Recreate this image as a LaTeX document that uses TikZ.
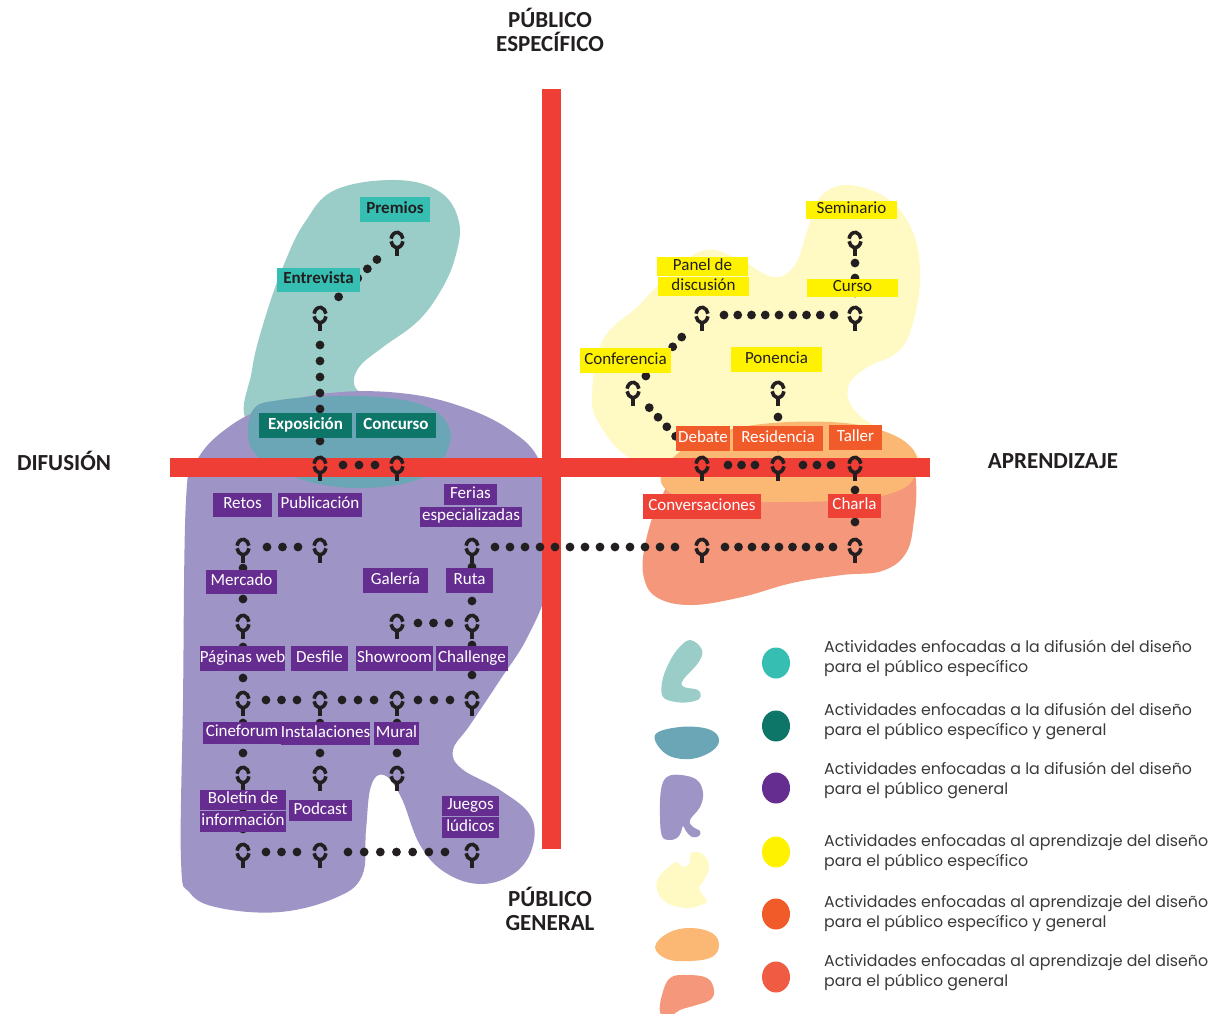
\documentclass[tikz,border=0pt]{standalone}
\usepackage{fontspec}
\setmainfont{Carlito}
\newfontfamily\legfont{Poppins}
\usetikzlibrary{calc,shapes.geometric}
\definecolor{barred}{HTML}{EF3E36}
\definecolor{tealL}{HTML}{9BCDC8}
\definecolor{blueB}{HTML}{6BA6B6}
\definecolor{purB}{HTML}{9E95C6}
\definecolor{yelB}{HTML}{FFF9C4}
\definecolor{oraB}{HTML}{FBB874}
\definecolor{salB}{HTML}{F5977A}
\definecolor{cTeal}{HTML}{36BEB3}
\definecolor{cDTeal}{HTML}{0E7569}
\definecolor{cPur}{HTML}{662D91}
\definecolor{cYel}{HTML}{FFF200}
\definecolor{cOra}{HTML}{F15A29}
\definecolor{cRed}{HTML}{EF5B43}
\definecolor{lblRed}{HTML}{EE4237}
\definecolor{ink}{HTML}{231F20}
\definecolor{legtxt}{HTML}{3A3A3A}
\tikzset{
  symline/.style={line width=3.6pt, draw=ink},
  sym/.pic={
    \draw[symline] (190:6 and 7.6) arc[start angle=190,end angle=350,x radius=6,y radius=7.6];
    \draw[symline] (10:6 and 7.6) arc[start angle=10,end angle=170,x radius=6,y radius=7.6];
    \draw[symline] (0,7.6) -- (0,15.5);
  },
  lbl/.style={inner sep=0pt, outer sep=0pt, font=\fontsize{17}{17}\selectfont, text height=10.5pt, text depth=3pt, align=center},
  tealLbl/.style={fill=cTeal, text=ink, font=\bfseries\fontsize{17}{17}\selectfont},
  dtealLbl/.style={fill=cDTeal, text=white, font=\bfseries\fontsize{17}{17}\selectfont},
  yelLbl/.style={fill=cYel, text=ink},
  oraLbl/.style={fill=cOra, text=white},
  redLbl/.style={fill=lblRed, text=white},
  purLbl/.style={fill=cPur, text=white},
  axislbl/.style={font=\bfseries\fontsize{23}{24}\selectfont, text=ink, align=center, inner sep=0pt},
  legdot/.style={ellipse, inner sep=0pt, minimum width=28pt, minimum height=31pt},
  legtext/.style={font=\legfont\fontsize{15.8}{19.5}\selectfont, text=legtxt, align=left, anchor=west, inner sep=0pt},
  blob/.style={smooth cycle, tension=0.65},
}
\newcommand\lab[7]{\node[lbl,#6,minimum width=#4pt,minimum height=#5pt] (#1) at (#2,#3) {#7};}
\newcommand\dotrow[5]{%
  \path ($(#1)!#3pt!(#2)$) coordinate (dA) ($(#2)!#4pt!(#1)$) coordinate (dB);
  \foreach \k in {0,...,#5}{\fill[ink] ($(dA)!{\k/#5}!(dB)$) circle[radius=4.4];}
}
\begin{document}
\begin{tikzpicture}[x=1pt,y=-1pt]
\useasboundingbox (0,0) rectangle (1224,1013);
\fill[white] (0,0) rectangle (1224,1013);

% ---------- blobs ----------
\fill[tealL] plot[blob] coordinates {(396,180) (440,192) (459,222) (455,258) (440,292) (417,322) (383,347) (360,366) (354,384) (366,395) (395,400) (425,410) (420,440) (330,445) (250,425) (252,370) (266,315) (285,262) (305,222) (335,190)};
\fill[purB] plot[blob] coordinates {(186,500) (196,462) (222,432) (265,408) (330,393) (400,393) (460,406) (510,430) (540,462) (552,520) (548,585) (527,638) (500,680) (470,725) (453,750) (462,769) (500,790) (530,815) (533,845) (516,872) (482,884) (446,873) (420,845) (401,797) (384,775) (371,786) (366,830) (362,876) (335,898) (280,912) (220,908) (190,893) (181,860) (183,700)};
\fill[blueB] plot[blob] coordinates {(253,410) (280,400) (337,396) (390,398) (425,406) (445,420) (450,442) (432,472) (390,486) (330,486) (278,470) (250,445)};
\fill[yelB] plot[blob] coordinates {(592,395) (603,340) (637,307) (670,274) (705,250) (740,260) (773,277) (795,265) (808,228) (820,197) (848,185) (888,199) (912,230) (920,270) (915,315) (900,350) (866,368) (848,387) (856,412) (892,437) (922,462) (900,482) (800,487) (680,482) (628,457) (600,425)};
\fill[salB] plot[blob] coordinates {(690,458) (660,500) (645,545) (644,578) (658,598) (692,605) (742,597) (792,583) (842,575) (882,571) (906,553) (914,520) (916,482) (908,455) (870,442) (760,442)};
\fill[oraB] plot[blob] coordinates {(661,482) (676,455) (712,435) (762,424) (830,422) (880,430) (911,447) (917,470) (900,490) (850,500) (760,502) (690,500)};

% ---------- axes ----------
\fill[barred] (542,89) rectangle (561,849);
\fill[barred] (170,458) rectangle (930,477);

% ---------- symbol positions ----------
\coordinate (sPre) at (397,240);
\coordinate (sEnt) at (320,315);
\coordinate (sExp) at (320,465);
\coordinate (sCon) at (397,465);
\coordinate (sSem) at (855,240);
\coordinate (sCur) at (855,315);
\coordinate (sPan) at (702,315);
\coordinate (sConf) at (633,390);
\coordinate (sPon) at (778,390);
\coordinate (sDeb) at (702,465);
\coordinate (sRes) at (778,465);
\coordinate (sTal) at (855,465);
\coordinate (sCha) at (855,547);
\coordinate (sConv) at (702,547);
\coordinate (sRet) at (243,547);
\coordinate (sPub) at (320,547);
\coordinate (sFer) at (472,547);
\coordinate (sMer) at (243,623);
\coordinate (sGal) at (397,623);
\coordinate (sRut) at (472,623);
\coordinate (sPag) at (243,700);
\coordinate (sDes) at (320,700);
\coordinate (sSho) at (397,700);
\coordinate (sCh) at (472,700);
\coordinate (sCin) at (243,775);
\coordinate (sIns) at (320,775);
\coordinate (sMur) at (397,775);
\coordinate (sBol) at (243,852);
\coordinate (sPod) at (320,852);
\coordinate (sJue) at (472,852);

% ---------- dotted connectors ----------
\dotrow{sEnt}{sPre}{26}{28}{4}
\dotrow{sEnt}{sExp}{30}{24}{6}
\dotrow{sExp}{sCon}{23}{22}{2}
\dotrow{sSem}{sCur}{23}{22}{2}
\dotrow{sPan}{sCur}{22}{21}{8}
\dotrow{sPan}{sConf}{30}{19}{4}
\dotrow{sConf}{sDeb}{24}{26}{4}
\dotrow{sPon}{sRes}{27}{18}{2}
\dotrow{sDeb}{sRes}{26}{23}{2}
\dotrow{sRes}{sTal}{25}{24}{2}
\dotrow{sTal}{sCha}{25}{25}{2}
\dotrow{sConv}{sCha}{23}{22}{8}
\dotrow{sFer}{sConv}{23}{27}{12}
\dotrow{sRet}{sPub}{24}{22}{2}
\dotrow{sRet}{sMer}{21}{24}{2}
\dotrow{sFer}{sRut}{20}{22}{2}
\dotrow{sGal}{sRut}{21}{23}{2}
\dotrow{sMer}{sPag}{24}{22}{2}
\dotrow{sRut}{sCh}{22}{25}{2}
\dotrow{sPag}{sDes}{23}{23}{2}
\dotrow{sDes}{sSho}{22}{23}{2}
\dotrow{sSho}{sCh}{21}{22}{2}
\dotrow{sPag}{sCin}{23}{22}{2}
\dotrow{sDes}{sIns}{23}{22}{2}
\dotrow{sSho}{sMur}{23}{22}{2}
\dotrow{sCin}{sBol}{22}{23}{2}
\dotrow{sBol}{sPod}{23}{23}{2}
\dotrow{sPod}{sJue}{28}{27}{6}

% ---------- symbols ----------
\foreach \s in {sPre,sEnt,sExp,sCon,sSem,sCur,sPan,sConf,sPon,sDeb,sRes,sTal,sCha,sConv,sRet,sPub,sFer,sMer,sGal,sRut,sPag,sDes,sSho,sCh,sCin,sIns,sMur,sBol,sPod,sJue}
  {\pic at (\s) {sym};}

% ---------- labels ----------
\lab{lPre}{395}{209.5}{70}{25}{tealLbl}{Premios}
\lab{lEnt}{318.5}{280}{83}{24}{tealLbl}{Entrevista}
\lab{lExp}{305.5}{425.5}{93}{25}{dtealLbl}{Exposición}
\lab{lCon}{396}{425.5}{80}{25}{dtealLbl}{Concurso}
\lab{lSem}{851.5}{210}{91}{18}{yelLbl}{Seminario}
\lab{lCur}{852.5}{288}{91}{18}{yelLbl}{Curso}
\lab{lPan1}{702.5}{266.5}{91}{19}{yelLbl}{Panel de}
\lab{lPan2}{703.5}{286.5}{91}{19}{yelLbl}{discusión}
\lab{lConf}{625.5}{360.5}{91}{25}{yelLbl}{Conferencia}
\lab{lPon}{776.5}{359.5}{91}{25}{yelLbl}{Ponencia}
\lab{lDeb}{703}{438.5}{54}{25}{oraLbl}{Debate}
\lab{lRes}{778}{438.5}{90}{25}{oraLbl}{Residencia}
\lab{lTal}{855.5}{437.5}{53}{25}{oraLbl}{Taller}
\lab{lConv}{702}{506.5}{118}{25}{redLbl}{Conversaciones}
\lab{lCha}{854.5}{506}{53}{24}{redLbl}{Charla}
\lab{lRet}{242.5}{505}{59}{24}{purLbl}{Retos}
\lab{lPub}{320}{505}{84}{24}{purLbl}{Publicación}
\lab{lFer1}{470.5}{494.5}{53}{21}{purLbl}{Ferias}
\lab{lFer2}{471}{517}{102}{20}{purLbl}{especializadas}
\lab{lMer}{241.5}{582}{71}{24}{purLbl}{Mercado}
\lab{lGal}{395.5}{580.5}{65}{25}{purLbl}{Galería}
\lab{lRut}{469.5}{580.5}{47}{25}{purLbl}{Ruta}
\lab{lPag}{242.5}{658.5}{85}{25}{purLbl}{Páginas web}
\lab{lDes}{319.5}{658.5}{57}{25}{purLbl}{Desfile}
\lab{lSho}{394.5}{658.5}{77}{25}{purLbl}{Showroom}
\lab{lCh}{472}{658.5}{72}{25}{purLbl}{Challenge}
\lab{lCin}{242}{733}{78}{22}{purLbl}{Cineforum}
\lab{lIns}{325.5}{733.5}{87}{23}{purLbl}{Instalaciones}
\lab{lMur}{396.5}{733.5}{45}{23}{purLbl}{Mural}
\lab{lBol1}{243}{800}{86}{20}{purLbl}{Boletín de}
\lab{lBol2}{243}{821.5}{86}{21}{purLbl}{información}
\lab{lPod}{320.5}{810.5}{63}{21}{purLbl}{Podcast}
\lab{lJue1}{470.5}{806}{57}{20}{purLbl}{Juegos}
\lab{lJue2}{470.5}{827.5}{57}{21}{purLbl}{lúdicos}

% ---------- axis labels ----------
\node[axislbl] (axTop) at (550,30) {PÚBLICO\\ESPECÍFICO};
\node[axislbl] (axBot) at (550,909) {PÚBLICO\\GENERAL};
\node[axislbl] (axL) at (64,461) {DIFUSIÓN};
\node[axislbl] (axR) at (1053,461) {APRENDIZAJE};

% ---------- legend shapes ----------
\fill[tealL] plot[blob] coordinates {(690,640) (702,650) (698,663) (683,680) (684,687) (698,690) (700,698) (690,702) (676,702) (663,697) (662,683) (667,667) (677,650)};
\fill[blueB] plot[blob] coordinates {(655,735) (680,727) (708,729) (719,739) (712,751) (690,759) (666,754)};
\fill[purB] plot[blob] coordinates {(681,775) (697,780) (703,793) (700,807) (690,820) (693,827) (700,831) (699,836) (692,837) (686,831) (683,826) (681,832) (677,838) (669,840) (662,836) (660,817) (661,790) (667,777)};
\fill[yelB] plot[blob] coordinates {(693,852) (704,855) (709,867) (704,880) (699,887) (702,894) (707,901) (701,905) (687,908) (667,903) (657,890) (659,877) (670,866) (677,862) (683,867) (689,864) (690,856)};
\fill[oraB] plot[blob] coordinates {(655,947) (668,933) (690,928) (712,933) (719,945) (712,957) (690,961) (667,959)};
\fill[salB] plot[blob] coordinates {(670,978) (687,975) (707,978) (714,990) (710,1000) (693,1006) (680,1010) (667,1018) (660,1012) (662,995)};

% ---------- legend dots and texts ----------
\node[legdot, fill=cTeal] (d1) at (776,663) {};
\node[legdot, fill=cDTeal] (d2) at (776,726) {};
\node[legdot, fill=cPur] (d3) at (776,788) {};
\node[legdot, fill=cYel] (d4) at (776,852) {};
\node[legdot, fill=cOra] (d5) at (776,914) {};
\node[legdot, fill=cRed] (d6) at (776,977) {};
\node[legtext] (t1) at (824,658.5) {Actividades enfocadas a la difusión del diseño\\para el público específico};
\node[legtext] (t2) at (824,721.5) {Actividades enfocadas a la difusión del diseño\\para el público específico y general};
\node[legtext] (t3) at (824,780.5) {Actividades enfocadas a la difusión del diseño\\para el público general};
\node[legtext] (t4) at (824,852.5) {Actividades enfocadas al aprendizaje del diseño\\para el público específico};
\node[legtext] (t5) at (824,913.5) {Actividades enfocadas al aprendizaje del diseño\\para el público específico y general};
\node[legtext] (t6) at (824,972.5) {Actividades enfocadas al aprendizaje del diseño\\para el público general};
\end{tikzpicture}
\end{document}
